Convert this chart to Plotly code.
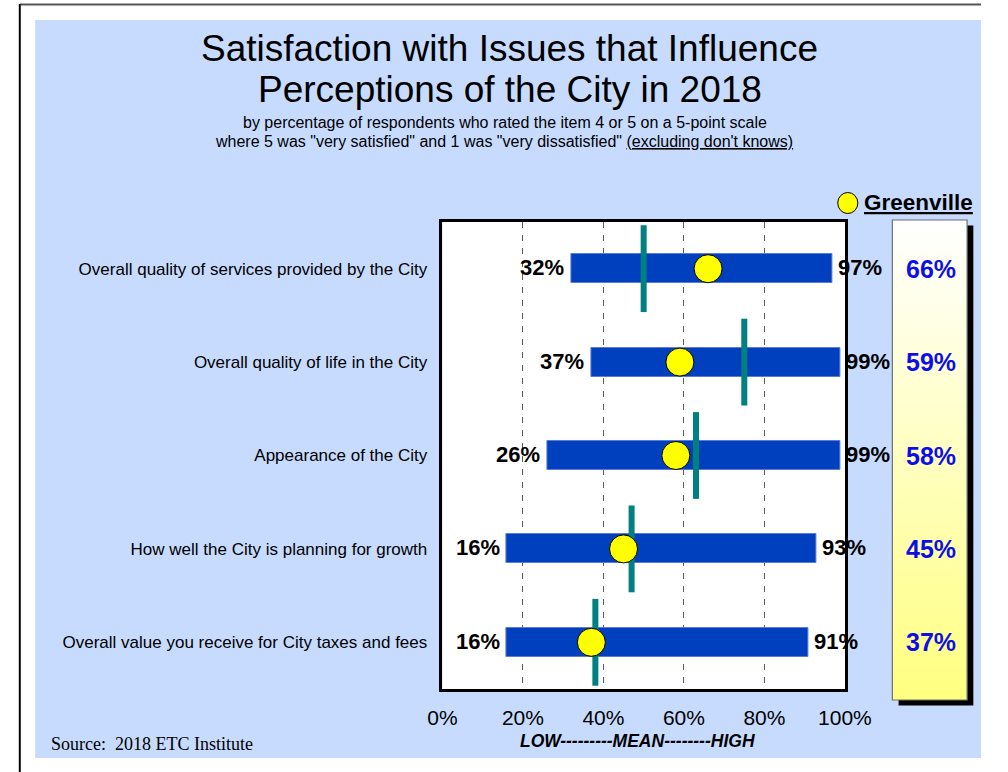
import plotly.graph_objects as go

# ---- data ----
categories = [
    "Overall quality of services provided by the City",
    "Overall quality of life in the City",
    "Appearance of the City",
    "How well the City is planning for growth",
    "Overall value you receive for City taxes and fees",
]
low_vals = [32, 37, 26, 16, 16]
high_vals = [97, 99, 99, 93, 91]
mean_vals = [50, 75, 63, 47, 38]
greenville_vals = [66, 59, 58, 45, 37]
x_ticks = [0, 20, 40, 60, 80, 100]
x_tick_text = ["0%", "20%", "40%", "60%", "80%", "100%"]

W, H = 1008, 772


def px_x(x):
    return x / W


def px_y(y):
    return 1 - y / H


rows = list(range(len(categories)))

# plot-area geometry in pixels
PL, PR, PT, PB = 446, 866, 222, 689

fig = go.Figure()

# low-to-high range bars
fig.add_trace(go.Bar(
    y=rows,
    x=[h - l for l, h in zip(low_vals, high_vals)],
    base=low_vals,
    orientation="h",
    width=0.31,
    marker=dict(color="#0040BF", line=dict(color="#5C7BD9", width=1)),
    hoverinfo="skip",
))

# mean marker
fig.add_trace(go.Scatter(
    x=mean_vals, y=rows, mode="markers",
    marker=dict(symbol="line-ns", size=62,
                line=dict(color="#008080", width=6)),
    hoverinfo="skip",
))

# Greenville marker
fig.add_trace(go.Scatter(
    x=greenville_vals, y=rows, mode="markers",
    marker=dict(symbol="circle", size=28, color="#FFFF00",
                line=dict(color="#000000", width=1)),
    hoverinfo="skip",
))

shapes = []
# page frame
shapes.append(dict(type="line", xref="paper", yref="paper",
                   x0=px_x(5), x1=1, y0=px_y(4.5), y1=px_y(4.5),
                   line=dict(color="#555555", width=2), layer="below"))
shapes.append(dict(type="line", xref="paper", yref="paper",
                   x0=px_x(5), x1=px_x(5), y0=px_y(4), y1=0,
                   line=dict(color="#000000", width=2), layer="below"))
# light blue chart background
shapes.append(dict(type="rect", xref="paper", yref="paper",
                   x0=px_x(21), x1=1, y0=px_y(20), y1=px_y(758),
                   fillcolor="#C7DBFF", line=dict(width=0), layer="below"))
# white plot area
shapes.append(dict(type="rect", xref="paper", yref="paper",
                   x0=px_x(PL), x1=px_x(PR), y0=px_y(PT), y1=px_y(PB),
                   fillcolor="#FFFFFF", line=dict(width=0), layer="below"))

# side panel: shadow, gradient fill, border
BX0, BX1, BY0, BY1 = 915.5, 993.5, 220, 700
shapes.append(dict(type="rect", xref="paper", yref="paper",
                   x0=px_x(BX0 + 6.5), x1=px_x(BX1 + 6.5),
                   y0=px_y(BY0 + 5.5), y1=px_y(BY1 + 5.5),
                   fillcolor="#000000", line=dict(width=0), layer="below"))
n_strips = 120
for i in range(n_strips):
    t = i / (n_strips - 1)
    b = int(round(255 - t * (255 - 128)))
    y0 = BY0 + (BY1 - BY0) * i / n_strips
    y1 = BY0 + (BY1 - BY0) * (i + 1) / n_strips + 0.6
    shapes.append(dict(type="rect", xref="paper", yref="paper",
                       x0=px_x(BX0), x1=px_x(BX1),
                       y0=px_y(y0), y1=px_y(min(y1, BY1)),
                       fillcolor=f"rgb(255,255,{b})", line=dict(width=0),
                       layer="below"))
shapes.append(dict(type="rect", xref="paper", yref="paper",
                   x0=px_x(BX0), x1=px_x(BX1), y0=px_y(BY0), y1=px_y(BY1),
                   fillcolor="rgba(0,0,0,0)",
                   line=dict(color="#6E6E6E", width=1.2), layer="below"))

# legend symbol
shapes.append(dict(type="circle", xref="paper", yref="paper",
                   x0=px_x(858.5), x1=px_x(879.5),
                   y0=px_y(192.5), y1=px_y(213.5),
                   fillcolor="#FFFF00", line=dict(color="#000000", width=1),
                   layer="above"))

annotations = []
# titles
annotations += [
    dict(text="Satisfaction with Issues that Influence", x=px_x(516.5), y=px_y(48),
         font=dict(size=37, color="#000000")),
    dict(text="Perceptions of the City in 2018", x=px_x(516.5), y=px_y(89.5),
         font=dict(size=37, color="#000000")),
    dict(text="by percentage of respondents who rated the item 4 or 5 on a 5-point scale",
         x=px_x(511.5), y=px_y(122), font=dict(size=16, color="#000000")),
    dict(text="where 5 was \"very satisfied\" and 1 was \"very dissatisfied\" <u>(excluding don't knows)</u>",
         x=px_x(510.5), y=px_y(141), font=dict(size=16, color="#000000")),
]
for a in annotations:
    a.update(xref="paper", yref="paper", xanchor="center", yanchor="middle",
             showarrow=False)

# low / high value labels beside each bar
for r, lo, hi in zip(rows, low_vals, high_vals):
    annotations.append(dict(text=f"<b>{lo}%</b>", x=lo, y=r, xref="x", yref="y",
                            xanchor="right", yanchor="middle", xshift=-5, yshift=1,
                            showarrow=False, font=dict(size=22, color="#000000")))
    annotations.append(dict(text=f"<b>{hi}%</b>", x=hi, y=r, xref="x", yref="y",
                            xanchor="left", yanchor="middle", xshift=3, yshift=1,
                            showarrow=False, font=dict(size=22, color="#000000")))

# Greenville values in the side panel
for r, g in zip(rows, greenville_vals):
    annotations.append(dict(text=f"<b>{g}%</b>", x=px_x(956), y=r,
                            xref="paper", yref="y", xanchor="center",
                            yanchor="middle", showarrow=False,
                            font=dict(size=25, color="#0E0EEB")))

# legend text, axis caption, source
annotations += [
    dict(text="<b><u>Greenville</u></b>", x=px_x(884), y=px_y(202),
         xref="paper", yref="paper", xanchor="left", yanchor="middle",
         showarrow=False, font=dict(size=22.5, color="#000000")),
    dict(text="<b><i>LOW---------MEAN--------HIGH</i></b>", x=px_x(650), y=px_y(741),
         xref="paper", yref="paper", xanchor="center", yanchor="middle",
         showarrow=False, font=dict(size=17.5, color="#000000")),
    dict(text="Source:\u00a0 2018 ETC Institute", x=px_x(35), y=px_y(744),
         xref="paper", yref="paper", xanchor="left", yanchor="middle",
         showarrow=False,
         font=dict(size=18, color="#000000",
                   family="Liberation Serif, Times New Roman, serif")),
]

fig.update_layout(
    width=W, height=H, autosize=False,
    margin=dict(l=0, r=0, t=0, b=0),
    paper_bgcolor="#FFFFFF",
    plot_bgcolor="rgba(0,0,0,0)",
    showlegend=False,
    bargap=0,
    font=dict(family="Liberation Sans, Arial, sans-serif", color="#000000"),
    shapes=shapes,
    annotations=annotations,
    xaxis=dict(
        domain=[px_x(PL), px_x(PR)],
        range=[0, 100],
        tickvals=x_ticks, ticktext=x_tick_text,
        ticks="", ticklabelstandoff=8,
        tickfont=dict(size=21, color="#000000"),
        showgrid=True, gridcolor="#5A5A5A", gridwidth=1.2, griddash="6px,7px",
        zeroline=False,
        showline=True, linecolor="#000000", linewidth=2.5, mirror=True,
        fixedrange=True,
    ),
    yaxis=dict(
        domain=[px_y(PB), px_y(PT)],
        range=[4.5, -0.5],
        tickvals=rows, ticktext=categories,
        ticks="", ticklabelstandoff=9,
        tickfont=dict(size=17, color="#000000"),
        showgrid=False, zeroline=False,
        showline=True, linecolor="#000000", linewidth=2.5, mirror=True,
        fixedrange=True,
    ),
)

fig.write_html("out.html", config={"displayModeBar": False})
